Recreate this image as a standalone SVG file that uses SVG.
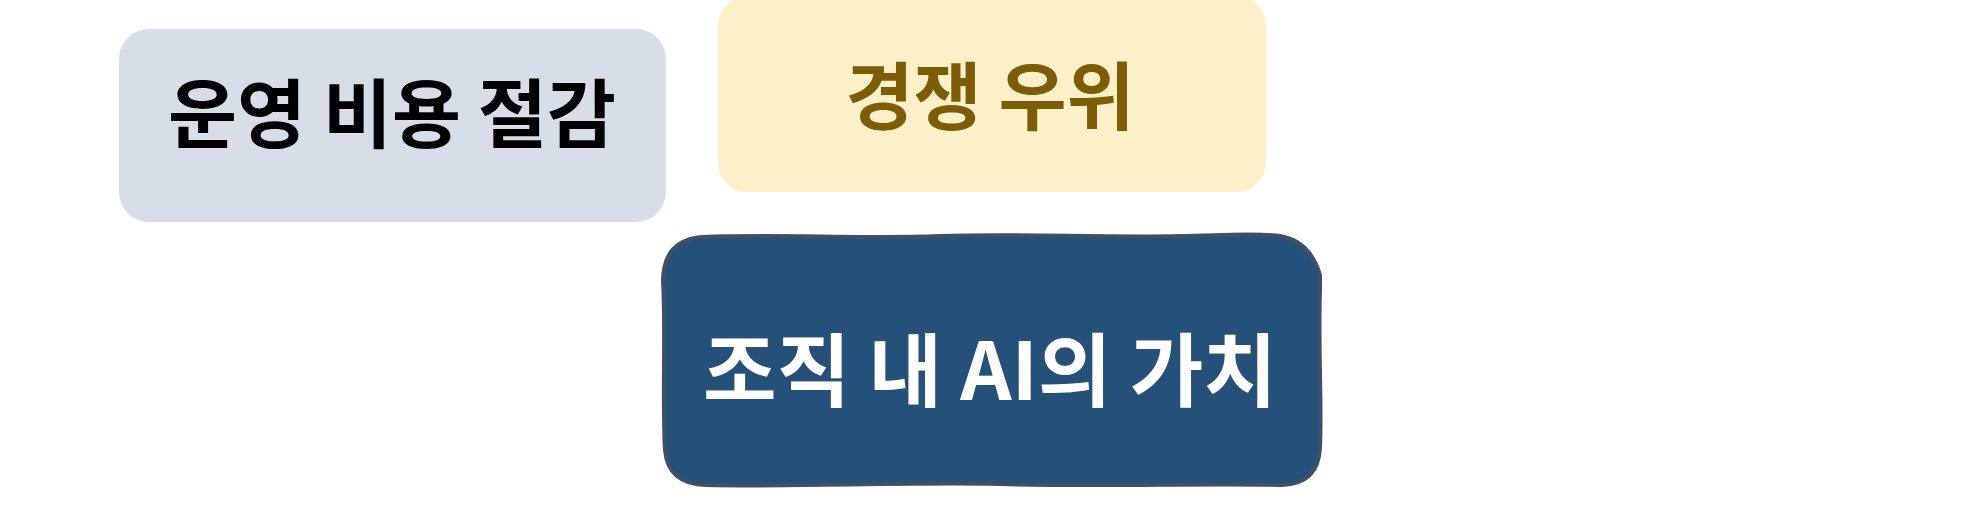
<svg xmlns="http://www.w3.org/2000/svg" width="1969" height="528" viewBox="0 0 1969 528">
<style>
.lbl{font-family:"Noto Sans CJK KR","Noto Sans",sans-serif;font-weight:700;text-anchor:middle}
</style>
<rect width="1969" height="528" fill="#ffffff"/>
<g id="connectors"></g>
<g id="node-cost">
<rect x="119" y="29" width="547" height="193" rx="30" ry="30" fill="#d8dee8"/>
<text class="lbl" x="392" y="142" font-size="75" fill="#000000">운영 비용 절감</text>
</g>
<g id="node-advantage">
<rect x="718" y="-4" width="548" height="196" rx="30" ry="30" fill="#fdefc7"/>
<text class="lbl" x="990" y="124" font-size="74" fill="#7d5c06">경쟁 우위</text>
</g>
<g id="node-value">
<path d="M 702 237 C 780 234 860 239 940 236 C 1020 233 1100 238 1180 236 C 1230 235 1260 233 1280 236 Q 1310 241 1320 275 L 1320 290 C 1318 350 1322 400 1320 448 Q 1318 484 1282 485 C 1200 483 1100 487 1000 484 C 900 482 800 487 706 485 Q 668 484 665 450 C 662 400 666 330 663 282 Q 663 240 702 237 Z" fill="#24507a" stroke="#3f4f67" stroke-width="4" stroke-linejoin="round"/>
<text class="lbl" x="990" y="400" font-size="80" fill="#ffffff">조직 내 AI의 가치</text>
</g>
</svg>
